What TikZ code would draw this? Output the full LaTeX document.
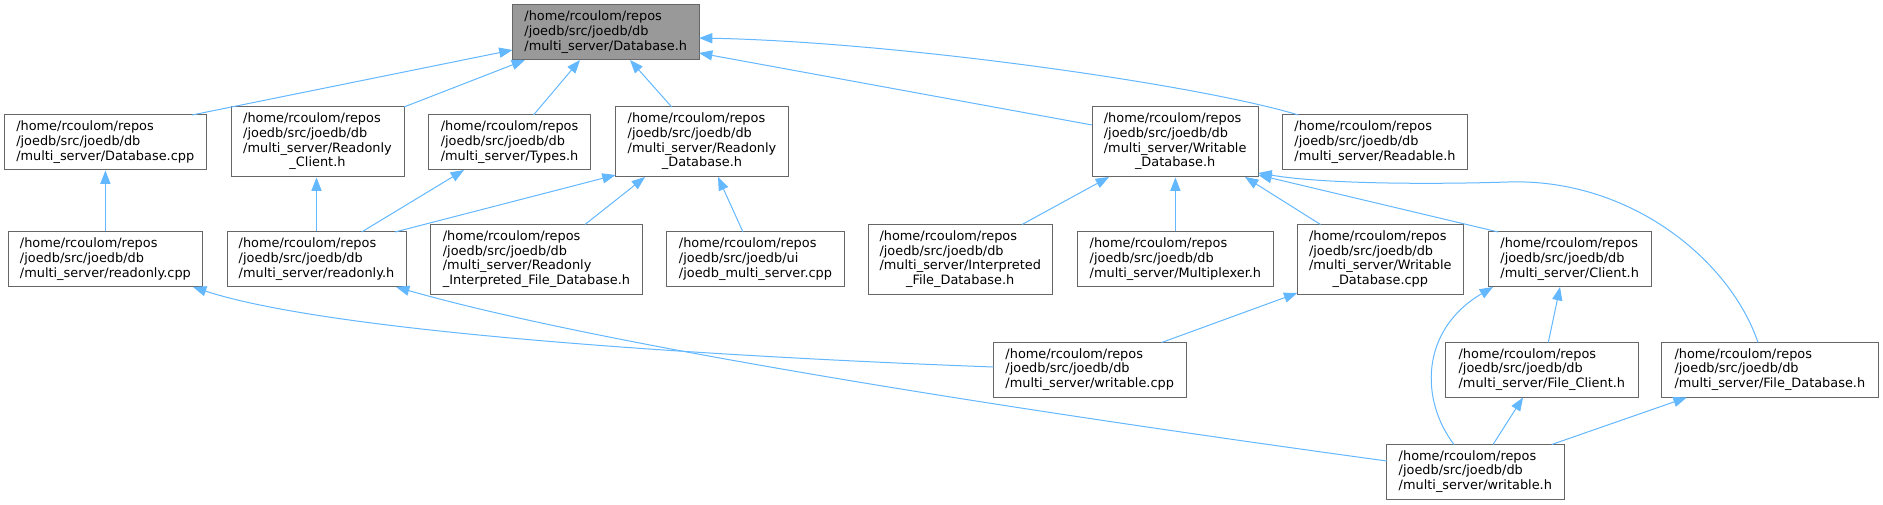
\documentclass[tikz,border=0pt]{standalone}
\usepackage{fontspec}
\setmainfont{DejaVu Sans}
\usetikzlibrary{arrows.meta,calc}
\definecolor{edgeblue}{HTML}{63B8FF}
\definecolor{boxgray}{HTML}{666666}
\definecolor{rootgray}{HTML}{999999}
\newcommand\dlab[1]{\begin{tabular}{@{}l@{}}#1\end{tabular}}
\newcommand\dctr[1]{\multicolumn{1}{@{}c@{}}{#1}}
\begin{document}
\begin{tikzpicture}[x=0.75pt,y=-0.75pt,
  box/.style={draw=boxgray, line width=0.75pt, fill=white, rectangle, inner sep=0pt,
    font=\fontsize{9.67pt}{11pt}\selectfont, text=black},
  rootbox/.style={box, fill=rootgray},
  bsize/.style 2 args={minimum width={#1*0.75pt}, minimum height={#2*0.75pt}},
  dep/.style={draw=edgeblue, line width=0.75pt, -{Triangle[length=10pt,width=7.6pt]}}]
\fill[white] (0,0) rectangle (1883,505);
\useasboundingbox (0,0) rectangle (1883,505);

% row 1
\node[rootbox, bsize={186.5}{55}] (root) at (605.75,32.5)
  {\dlab{/home/rcoulom/repos\\/joedb/src/joedb/db\\/multi\_server/Database.h}};
% row 2
\node[box, bsize={201.5}{55}] (dbcpp) at (105.25,142.5)
  {\dlab{/home/rcoulom/repos\\/joedb/src/joedb/db\\/multi\_server/Database.cpp}};
\node[box, bsize={173}{70}] (roclient) at (317.5,142)
  {\dlab{/home/rcoulom/repos\\/joedb/src/joedb/db\\/multi\_server/Readonly\\\dctr{\_Client.h}}};
\node[box, bsize={162.1}{55}] (types) at (509.55,142.5)
  {\dlab{/home/rcoulom/repos\\/joedb/src/joedb/db\\/multi\_server/Types.h}};
\node[box, bsize={172.8}{70}] (rodb) at (702,142)
  {\dlab{/home/rcoulom/repos\\/joedb/src/joedb/db\\/multi\_server/Readonly\\\dctr{\_Database.h}}};
\node[box, bsize={166.3}{70}] (wdb) at (1175.15,142)
  {\dlab{/home/rcoulom/repos\\/joedb/src/joedb/db\\/multi\_server/Writable\\\dctr{\_Database.h}}};
\node[box, bsize={185.4}{55}] (readable) at (1375,142.5)
  {\dlab{/home/rcoulom/repos\\/joedb/src/joedb/db\\/multi\_server/Readable.h}};
% row 3
\node[box, bsize={194.2}{55}] (rocpp) at (105.4,259.5)
  {\dlab{/home/rcoulom/repos\\/joedb/src/joedb/db\\/multi\_server/readonly.cpp}};
\node[box, bsize={179}{55}] (roh) at (316.5,259.5)
  {\dlab{/home/rcoulom/repos\\/joedb/src/joedb/db\\/multi\_server/readonly.h}};
\node[box, bsize={212}{70}] (roifdb) at (536.5,259.5)
  {\dlab{/home/rcoulom/repos\\/joedb/src/joedb/db\\/multi\_server/Readonly\\\dctr{\_Interpreted\_File\_Database.h}}};
\node[box, bsize={178}{55}] (jms) at (755.5,259.5)
  {\dlab{/home/rcoulom/repos\\/joedb/src/joedb/ui\\/joedb\_multi\_server.cpp}};
\node[box, bsize={183.5}{70}] (ifdb) at (960.25,259.5)
  {\dlab{/home/rcoulom/repos\\/joedb/src/joedb/db\\/multi\_server/Interpreted\\\dctr{\_File\_Database.h}}};
\node[box, bsize={195.8}{55}] (mux) at (1175.4,259.5)
  {\dlab{/home/rcoulom/repos\\/joedb/src/joedb/db\\/multi\_server/Multiplexer.h}};
\node[box, bsize={166}{70}] (wdbcpp) at (1380.3,259.5)
  {\dlab{/home/rcoulom/repos\\/joedb/src/joedb/db\\/multi\_server/Writable\\\dctr{\_Database.cpp}}};
\node[box, bsize={162.7}{55}] (client) at (1569.65,259.5)
  {\dlab{/home/rcoulom/repos\\/joedb/src/joedb/db\\/multi\_server/Client.h}};
% row 4
\node[box, bsize={192.5}{55}] (wcpp) at (1089.75,370)
  {\dlab{/home/rcoulom/repos\\/joedb/src/joedb/db\\/multi\_server/writable.cpp}};
\node[box, bsize={192.3}{55}] (fclient) at (1541.85,370)
  {\dlab{/home/rcoulom/repos\\/joedb/src/joedb/db\\/multi\_server/File\_Client.h}};
\node[box, bsize={216.3}{55}] (fdb) at (1769.85,370)
  {\dlab{/home/rcoulom/repos\\/joedb/src/joedb/db\\/multi\_server/File\_Database.h}};
% row 5
\node[box, bsize={177.3}{55}] (wh) at (1475.35,472)
  {\dlab{/home/rcoulom/repos\\/joedb/src/joedb/db\\/multi\_server/writable.h}};

% edges (child -> included file)
\draw[dep] ($(dbcpp)+(86.75,-27.5)$) -- ($(root)+(-93.25,17.5)$);
\draw[dep] ($(roclient)+(86.5,-35)$) -- ($(root)+(-80.75,27.5)$);
\draw[dep] ($(types)+(23.95,-27.5)$) -- ($(root)+(-25.75,27.5)$);
\draw[dep] ($(rodb)+(-30.3,-35)$) -- ($(root)+(24.25,27.5)$);
\draw[dep] ($(wdb)+(-83.15,-17)$) -- ($(root)+(93.25,20.5)$);
\draw[dep] ($(readable)+(-76.6,-27.5)$) .. controls (1200,85) and (900,42) .. ($(root)+(93.25,5.5)$);
\draw[dep] (rocpp.north) -- (rocpp.north |- dbcpp.south);
\draw[dep] (roh.north) -- (roh.north |- roclient.south);
\draw[dep] ($(roh)+(45.1,-27.5)$) -- ($(types)+(-45.55,27.5)$);
\draw[dep] ($(roh)+(78.5,-27.5)$) -- ($(rodb)+(-86.4,33)$);
\draw[dep] ($(roifdb)+(48.5,-35)$) -- ($(rodb)+(-57,35)$);
\draw[dep] ($(jms)+(-12.5,-27.5)$) -- ($(rodb)+(16,35)$);
\draw[dep] ($(ifdb)+(61.75,-35)$) -- ($(wdb)+(-66.15,35)$);
\draw[dep] (mux.north) -- (mux.north |- wdb.south);
\draw[dep] ($(wdbcpp)+(-59.8,-35)$) -- ($(wdb)+(69.85,35)$);
\draw[dep] ($(client)+(-71.35,-27.5)$) -- ($(wdb)+(83.15,33)$);
\draw[dep] ($(fdb)+(-11.85,-27.5)$) .. controls (1730,260) and (1630,178) .. (1508,182)
  .. controls (1448,184) and (1330,185) .. ($(wdb)+(83.15,31)$);
\draw[dep] ($(wcpp)+(71.85,-27.5)$) -- ($(wdbcpp)+(-83,33.5)$);
\draw[dep] ($(wcpp)+(-96.25,-3)$) .. controls (700,356) and (330,332) .. ($(rocpp)+(87.6,27.5)$);
\draw[dep] ($(wh)+(-88.65,-11)$) .. controls (1000,408) and (600,345) .. ($(roh)+(79.5,27.5)$);
\draw[dep] ($(wh)+(-21.35,-27.5)$) .. controls (1420,400) and (1420,330) .. ($(client)+(-76.65,27.5)$);
\draw[dep] ($(wh)+(17.65,-27.5)$) -- ($(fclient)+(-18.85,27.5)$);
\draw[dep] ($(wh)+(76.35,-27.5)$) -- ($(fdb)+(-83.15,27.5)$);
\draw[dep] ($(fclient)+(6.45,-27.5)$) -- ($(client)+(-9.65,27.5)$);
\end{tikzpicture}
\end{document}
